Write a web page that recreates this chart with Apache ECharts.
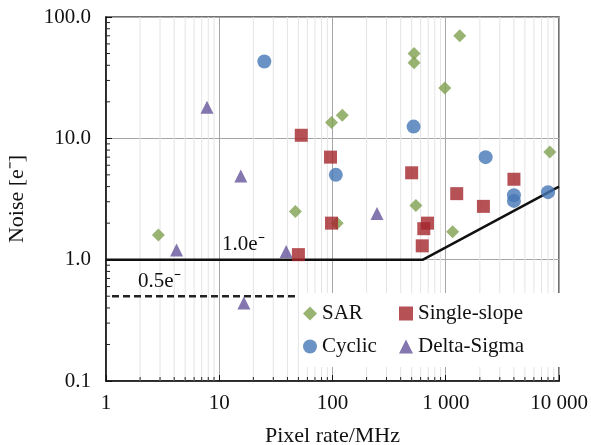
<!DOCTYPE html>
<html>
<head>
<meta charset="utf-8">
<script src="https://cdn.jsdelivr.net/npm/echarts@6/dist/echarts.min.js"></script>
<style>html,body{margin:0;padding:0;background:#fff}#c{width:591px;height:445px}</style>
</head>
<body>
<div id="c"></div>
<script>
// ---- data ----
const sarData = [[2.9,1.6],[47,2.5],[98,13.5],[122,15.5],[110,2.0],[525,50],[525,42],[545,2.8],[980,26],[1150,1.7],[1330,70],[8300,7.7]];
const singleSlopeData = [[50,1.1],[53,10.6],[96,7],[98,2.0],[500,5.2],[620,1.3],[640,1.8],[690,2.0],[1250,3.5],[2150,2.75],[4000,4.6]];
const cyclicData = [[25,43],[107,5],[520,12.5],[2250,7],[4000,3.4],[4000,3.05],[8000,3.6]];
const deltaSigmaData = [[4.2,1.2],[7.8,18],[15.5,4.9],[16.5,0.44],[39,1.17],[247,2.4]];
const limitLine = [[1,1],[630,1],[10000,4]];
const halfLine = [[1.13,0.5],[48,0.5]];
const xTickLabels = ['1','10','100','1 000','10 000'];
const yTickLabels = ['0.1','1.0','10.0','100.0'];
const xRange = [1, 10000];
const yRange = [0.1, 100];
// minor gridline values (2..9 within each decade)
const xMinor = [];
for (let d = 1; d < 10000; d *= 10) for (let k = 2; k <= 9; k++) xMinor.push([d * k, 1]);
const yMinor = [];
for (let d = 0.1; d < 99; d *= 10) for (let k = 2; k <= 9; k++) yMinor.push([1, +(d * k).toPrecision(3)]);

const FONT = "'Liberation Serif','Times New Roman',serif";
const chart = echarts.init(document.getElementById('c'), null, {renderer: 'canvas'});

function xMinorItem(params, api) {
  const v = api.value(0);
  const top = api.coord([v, yRange[1]]);
  const bot = api.coord([v, yRange[0]]);
  return {type: 'group', children: [
    {type: 'line', shape: {x1: top[0], y1: top[1], x2: bot[0], y2: bot[1]}, style: {stroke: '#e4e4e4', lineWidth: 1}},
    {type: 'line', shape: {x1: bot[0], y1: bot[1], x2: bot[0], y2: bot[1] - 4}, style: {stroke: '#222', lineWidth: 1}}
  ]};
}
function yMinorItem(params, api) {
  const v = api.value(1);
  const p = api.coord([xRange[0], v]);
  return {type: 'line', shape: {x1: p[0], y1: p[1], x2: p[0] + 4, y2: p[1]}, style: {stroke: '#222', lineWidth: 1}};
}

chart.setOption({
  animation: false,
  backgroundColor: '#fff',
  textStyle: {fontFamily: FONT},
  grid: {left: 106, right: 32, top: 17, bottom: 64, containLabel: false, outerBoundsMode: 'none',
    show: true, borderColor: '#444', borderWidth: 1.5, backgroundColor: 'transparent'},
  legend: {
    data: ['SAR', 'Single-slope', 'Cyclic', 'Delta-Sigma'],
    left: 300, top: 293, width: 270,
    orient: 'horizontal',
    padding: [9, 72, 9, 3],
    backgroundColor: '#fff',
    itemWidth: 14, itemHeight: 14, itemGap: 10,
    textStyle: {fontFamily: FONT, fontSize: 21, color: '#111', width: 67, lineHeight: 23}
  },
  xAxis: {
    type: 'log', logBase: 10, min: xRange[0], max: xRange[1],
    name: 'Pixel rate/MHz', nameLocation: 'middle', nameGap: 44,
    nameTextStyle: {fontFamily: FONT, fontSize: 22, color: '#111'},
    axisLine: {lineStyle: {color: '#111', width: 1.5}},
    axisTick: {inside: true, length: 6, interval: 0, lineStyle: {color: '#111'}},
    axisLabel: {fontFamily: FONT, fontSize: 21, color: '#111', margin: 12, interval: 0, hideOverlap: false,
      formatter: v => xTickLabels[Math.round(Math.log10(v))]},
    splitLine: {show: true, interval: 0, lineStyle: {color: '#a6a6a6', width: 1}}
  },
  yAxis: {
    type: 'log', logBase: 10, min: yRange[0], max: yRange[1],
    name: 'Noise [e\u207B]', nameLocation: 'middle', nameGap: 78, nameRotate: 90,
    nameTextStyle: {fontFamily: FONT, fontSize: 22, color: '#111'},
    axisLine: {lineStyle: {color: '#111', width: 1.5}},
    axisTick: {inside: true, length: 6, lineStyle: {color: '#111'}},
    axisLabel: {fontFamily: FONT, fontSize: 21, color: '#111', margin: 15,
      formatter: v => yTickLabels[Math.round(Math.log10(v)) + 1]},
    splitLine: {show: true, lineStyle: {color: '#a6a6a6', width: 1}}
  },
  series: [
    {type: 'custom', name: 'xminor', data: xMinor, renderItem: xMinorItem, z: 1, silent: true},
    {type: 'custom', name: 'yminor', data: yMinor, renderItem: yMinorItem, z: 1, silent: true},
    {type: 'line', name: 'limit', data: limitLine, symbol: 'none', z: 2,
      lineStyle: {color: '#111', width: 2.5},
      markPoint: {symbol: 'circle', symbolSize: 0, silent: true,
        label: {show: true, position: 'right', distance: 0, offset: [0, -15], fontFamily: FONT, fontSize: 21, color: '#111', formatter: p => p.name},
        data: [{name: '1.0e\u207B', coord: [10.6, 1]}]}},
    {type: 'line', name: 'half', data: halfLine, symbol: 'none', z: 2,
      lineStyle: {color: '#222', width: 2.5, type: [7, 4]},
      markPoint: {symbol: 'circle', symbolSize: 0, silent: true,
        label: {show: true, position: 'right', distance: 0, offset: [0, -15], fontFamily: FONT, fontSize: 21, color: '#111', formatter: p => p.name},
        data: [{name: '0.5e\u207B', coord: [1.92, 0.5]}]}},
    {type: 'scatter', name: 'SAR', data: sarData, symbol: 'diamond', symbolSize: 13, z: 3, itemStyle: {color: '#80a050'}},
    {type: 'scatter', name: 'Single-slope', data: singleSlopeData, symbol: 'rect', symbolSize: 13, z: 3, itemStyle: {color: '#a4262c'}},
    {type: 'scatter', name: 'Cyclic', data: cyclicData, symbol: 'circle', symbolSize: 14, z: 3, itemStyle: {color: '#4677b5'}},
    {type: 'scatter', name: 'Delta-Sigma', data: deltaSigmaData, symbol: 'triangle', symbolSize: 13, z: 3, itemStyle: {color: '#65549a'}}
  ]
});
</script>
</body>
</html>
